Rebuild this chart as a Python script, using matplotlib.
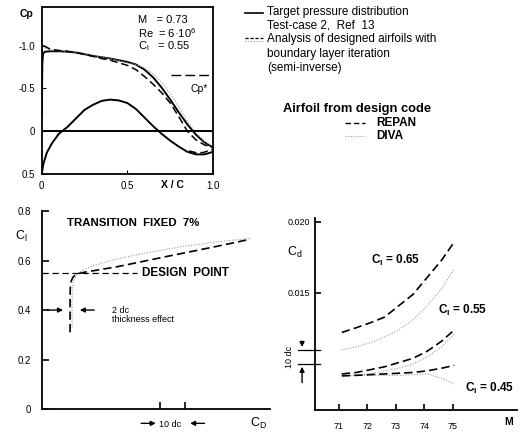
import numpy as np
import matplotlib
matplotlib.use('Agg')
import matplotlib.pyplot as plt
from matplotlib.lines import Line2D
import matplotlib.transforms as mtransforms

plt.rcParams['font.family'] = ['Liberation Sans', 'DejaVu Sans']
plt.rcParams['mathtext.default'] = 'regular'

# ---- top-left: pressure distribution (x/c, Cp) ----
up_x = [0.0, 0.004, 0.008, 0.02, 0.05, 0.1, 0.15, 0.2, 0.25, 0.3, 0.35, 0.4, 0.45, 0.5,
        0.55, 0.6, 0.65, 0.7, 0.75, 0.8, 0.85, 0.9, 0.95, 1.0]
up_target = [-0.2, -0.8, -0.91, -0.93, -0.935, -0.935, -0.93, -0.92, -0.90, -0.88, -0.865, -0.85, -0.83, -0.81,
             -0.78, -0.72, -0.63, -0.51, -0.37, -0.22, -0.08, 0.04, 0.13, 0.19]
up_repan_x = [0.0, 0.004, 0.01, 0.02, 0.05, 0.1, 0.15, 0.2, 0.25, 0.3, 0.35, 0.4, 0.45, 0.5,
              0.55, 0.6, 0.65, 0.7, 0.75, 0.8, 0.85, 0.9, 0.95, 1.0]
up_repan = [-0.6, -0.97, -1.0, -0.99, -0.96, -0.945, -0.935, -0.92, -0.90, -0.875, -0.85, -0.83, -0.80, -0.77,
            -0.72, -0.64, -0.55, -0.45, -0.33, -0.17, 0.0, 0.10, 0.16, 0.19]
up_diva_x = [0.02, 0.05, 0.1, 0.2, 0.3, 0.4, 0.5, 0.55, 0.6, 0.65, 0.7, 0.75, 0.8, 0.85, 0.9, 0.95, 1.0]
up_diva = [-0.97, -0.95, -0.94, -0.92, -0.88, -0.85, -0.80, -0.78, -0.74, -0.67, -0.57, -0.44, -0.28, -0.12, 0.02, 0.12, 0.18]
lo_x = [0.0, 0.01, 0.03, 0.06, 0.1, 0.15, 0.2, 0.25, 0.3, 0.35, 0.4, 0.45, 0.5,
        0.55, 0.6, 0.65, 0.7, 0.75, 0.8, 0.85, 0.9, 0.95, 1.0]
lo_target = [0.5, 0.38, 0.25, 0.14, 0.03, -0.05, -0.15, -0.25, -0.31, -0.355, -0.37, -0.36, -0.33,
             -0.26, -0.16, -0.06, 0.03, 0.11, 0.18, 0.24, 0.27, 0.27, 0.24]
lo_repan_x = [0.86, 0.9, 0.94, 0.97, 1.0]
lo_repan = [0.23, 0.25, 0.25, 0.23, 0.21]
cp_star = -0.66

# ---- bottom-left: drag polar (drag counts, Cl) ----
polar_repan_cd = [11.2, 11.2, 11.3, 11.6, 12.3, 13.3, 14.8, 17, 30, 50, 70, 83]
polar_repan_cl = [0.31, 0.45, 0.49, 0.515, 0.532, 0.542, 0.548, 0.553, 0.575, 0.617, 0.658, 0.686]
polar_diva_cd = [12, 12, 12.2, 12.6, 13.4, 14.6, 16.5, 20, 28, 40, 55, 70, 83]
polar_diva_cl = [0.33, 0.45, 0.49, 0.515, 0.535, 0.55, 0.562, 0.578, 0.602, 0.628, 0.655, 0.676, 0.69]
design_cl = 0.55

# ---- bottom-right: Cd vs Mach ----
mach_ticks = [0.71, 0.72, 0.73, 0.74, 0.75]
mach_labels = ['71', '72', '73', '74', '75']
mach = [0.711, 0.716, 0.721, 0.726, 0.731, 0.736, 0.741, 0.746, 0.7505]
cd65_repan = [0.01222, 0.01255, 0.0129, 0.0133, 0.0141, 0.0149, 0.0161, 0.0173, 0.0186]
cd55_repan = [0.0093, 0.0094, 0.0096, 0.0098, 0.0101, 0.0104, 0.0109, 0.0116, 0.0124]
cd45_repan = [0.00916, 0.0092, 0.00925, 0.0093, 0.00935, 0.0094, 0.00952, 0.0097, 0.0099]
cd65_diva = [0.0110, 0.0112, 0.0115, 0.0119, 0.0124, 0.0131, 0.0141, 0.0153, 0.0167]
cd55_diva = [0.0092, 0.0092, 0.0093, 0.0095, 0.0097, 0.0100, 0.0105, 0.0112, 0.0121]
cd45_diva = [0.0092, 0.0092, 0.0092, 0.0092, 0.0092, 0.00925, 0.0093, 0.0090, 0.0086]

fig = plt.figure(figsize=(5.21, 4.34), dpi=100)
dash = (0, (5, 2.5))
dot = (0, (1, 1.5))
dotc = '0.6'

# top-left
ax1 = fig.add_axes([0.080, 0.599, 0.329, 0.385])
ax1.plot(up_x, up_target, color='k', lw=1.4)
ax1.plot(up_diva_x, up_diva, color=dotc, lw=0.8, ls=dot)
ax1.plot(up_repan_x, up_repan, color='k', lw=1.1, ls=dash)
ax1.plot(lo_x, lo_target, color='k', lw=1.4)
ax1.plot(lo_repan_x, lo_repan, color='k', lw=1.1, ls=dash)
ax1.axhline(0, color='k', lw=1.4)
ax1.plot([0.755, 1.0], [cp_star, cp_star], color='k', lw=1.0, ls=(0, (7, 3)))
ax1.set_xlim(0, 1.0)
ax1.set_ylim(0.5, -1.453)
ax1.set_xticks([0, 0.5, 1.0])
ax1.set_xticklabels(['0', '0.5', '1.0'])
ax1.set_yticks([-1.0, -0.5, 0, 0.5])
ax1.set_yticklabels(['-1.0', '-0.5', '0', '0.5'])
ax1.tick_params(direction='in', length=3, labelsize=7, pad=5)
for s in ax1.spines.values():
    s.set_linewidth(1.3)
ax1.text(0.562, -1.30, 'M   = 0.73', fontsize=8, va='center')
ax1.text(0.562, -1.15, 'Re  = 6·10$^6$', fontsize=8, va='center')
ax1.text(0.562, -0.99, 'C$_l$   = 0.55', fontsize=8, va='center')
ax1.text(0.866, -0.49, 'Cp*', fontsize=7.5, va='center')
ax1.text(0.76, -0.065, 'X / C', fontsize=7.5, fontweight='bold', ha='center', va='center',
         transform=ax1.transAxes)
fig.text(0.038, 0.968, 'Cp', fontsize=7.5, fontweight='bold', va='center')

# legend block (figure pixel positions)
def fx(px):
    return px / 521.0

def fy(py):
    return 1 - py / 434.0

fig.add_artist(Line2D([fx(245), fx(263)], [fy(13), fy(13)], color='k', lw=1.2))
fig.text(fx(267), fy(12), 'Target pressure distribution', fontsize=8.5, va='center')
fig.text(fx(267), fy(25), 'Test-case 2,  Ref  13', fontsize=8.5, va='center')
fig.add_artist(Line2D([fx(245), fx(263)], [fy(38), fy(38)], color='k', lw=0.9, ls=(0, (2.5, 1.5))))
fig.add_artist(Line2D([fx(245), fx(263)], [fy(40.5), fy(40.5)], color=dotc, lw=0.8, ls=dot))
fig.text(fx(267), fy(39), 'Analysis of designed airfoils with', fontsize=8.5, va='center')
fig.text(fx(267), fy(54), 'boundary layer iteration', fontsize=8.5, va='center')
fig.text(fx(267), fy(68), '(semi-inverse)', fontsize=8.5, va='center')
fig.text(fx(283), fy(109), 'Airfoil from design code', fontsize=9.3, fontweight='bold', va='center')
fig.add_artist(Line2D([fx(345), fx(365)], [fy(123), fy(123)], color='k', lw=1.0, ls=(0, (4, 2))))
fig.text(fx(376), fy(123), 'REPAN', fontsize=8.5, fontweight='bold', va='center')
fig.add_artist(Line2D([fx(345), fx(365)], [fy(136), fy(136)], color=dotc, lw=0.8, ls=dot))
fig.text(fx(376), fy(136), 'DIVA', fontsize=8.5, fontweight='bold', va='center')

# bottom-left
ax2 = fig.add_axes([0.0806, 0.0576, 0.4376, 0.456])
ax2.plot(polar_diva_cd, polar_diva_cl, color=dotc, lw=0.8, ls=dot)
ax2.plot(polar_repan_cd, polar_repan_cl, color='k', lw=1.2, ls=dash)
ax2.plot([0, 38], [design_cl, design_cl], color='k', lw=0.9, ls=(0, (5, 3)))
ax2.set_xlim(0, 91)
ax2.set_ylim(0, 0.8)
ax2.set_yticks([0, 0.2, 0.4, 0.6, 0.8])
ax2.set_yticklabels(['0', '0.2', '0.4', '0.6', '0.8'])
ax2.set_xticks([47, 57])
ax2.set_xticklabels([])
ax2.tick_params(direction='in', length=5, width=1.2, labelsize=7, pad=8)
ax2.spines['top'].set_visible(False)
ax2.spines['right'].set_visible(False)
ax2.spines['left'].set_linewidth(1.3)
ax2.spines['bottom'].set_linewidth(1.3)
ax2.text(10, 0.75, 'TRANSITION  FIXED  7%', fontsize=8.2, fontweight='bold', va='center')
ax2.text(40, design_cl, 'DESIGN  POINT', fontsize=8.5, fontweight='bold', va='center')
ax2.annotate('', xy=(9.5, 0.4), xytext=(1, 0.4),
             arrowprops=dict(arrowstyle='-|>', color='k', lw=1.0, mutation_scale=7))
ax2.annotate('', xy=(14, 0.4), xytext=(22, 0.4),
             arrowprops=dict(arrowstyle='-|>', color='k', lw=1.0, mutation_scale=7))
ax2.text(28, 0.40, '2 dc', fontsize=6.5, va='center')
ax2.text(28, 0.36, 'thickness effect', fontsize=6.5, va='center')
ax2.annotate('', xy=(46.5, -0.058), xytext=(38.5, -0.058), annotation_clip=False,
             arrowprops=dict(arrowstyle='-|>', color='k', lw=1.0, mutation_scale=7))
ax2.annotate('', xy=(58, -0.058), xytext=(66, -0.058), annotation_clip=False,
             arrowprops=dict(arrowstyle='-|>', color='k', lw=1.0, mutation_scale=7))
ax2.text(51, -0.062, '10 dc', fontsize=6.5, ha='center', va='center')
ax2.text(86.5, -0.058, 'C$_D$', fontsize=9, ha='center', va='center')
fig.text(fx(15), fy(236), 'C$_l$', fontsize=9, va='center')

# bottom-right
ax3 = fig.add_axes([0.6046, 0.0553, 0.3877, 0.4424])
for cdd in (cd65_diva, cd55_diva, cd45_diva):
    ax3.plot(mach, cdd, color=dotc, lw=0.8, ls=dot)
for cdr in (cd65_repan, cd55_repan, cd45_repan):
    ax3.plot(mach, cdr, color='k', lw=1.2, ls=dash)
ax3.set_xlim(0.7016, 0.7725)
ax3.set_ylim(0.00676, 0.02028)
ax3.set_xticks(mach_ticks)
ax3.set_xticklabels(mach_labels)
ax3.set_yticks([0.015, 0.020])
ax3.set_yticklabels(['0.015', '0.020'])
ax3.tick_params(direction='in', length=4, width=1.2, labelsize=6.5)
ax3.tick_params(axis='x', pad=9)
ax3.spines['top'].set_visible(False)
ax3.spines['right'].set_visible(False)
ax3.spines['left'].set_linewidth(1.3)
ax3.spines['bottom'].set_linewidth(1.3)
ax3.text(0.7211, 0.01732, 'C$_l$ = 0.65', fontsize=8.5, fontweight='bold', va='center')
ax3.text(0.7446, 0.0138, 'C$_l$ = 0.55', fontsize=8.5, fontweight='bold', va='center')
ax3.text(0.7544, 0.00831, 'C$_l$ = 0.45', fontsize=8.5, fontweight='bold', va='center')
ax3.text(0.7695, 0.0059, 'M', fontsize=7.5, fontweight='bold', ha='center', va='center')
bt = mtransforms.blended_transform_factory(ax3.transAxes, ax3.transData)
for yv in (0.010, 0.011):
    ax3.plot([-0.084, 0.025], [yv, yv], color='k', lw=0.9, transform=bt, clip_on=False)
ax3.annotate('', xy=(-0.064, 0.011), xytext=(-0.064, 0.0118), xycoords=bt, textcoords=bt,
             arrowprops=dict(arrowstyle='-|>', color='k', lw=1.0, mutation_scale=7))
ax3.annotate('', xy=(-0.064, 0.010), xytext=(-0.064, 0.0085), xycoords=bt, textcoords=bt,
             arrowprops=dict(arrowstyle='-|>', color='k', lw=1.0, mutation_scale=7))
ax3.text(-0.124, 0.0105, '10 dc', fontsize=6.5, rotation=90, ha='center', va='center', transform=bt)
fig.text(fx(287), fy(252), 'C$_d$', fontsize=9, va='center')

fig.savefig('out.png', dpi=100)
